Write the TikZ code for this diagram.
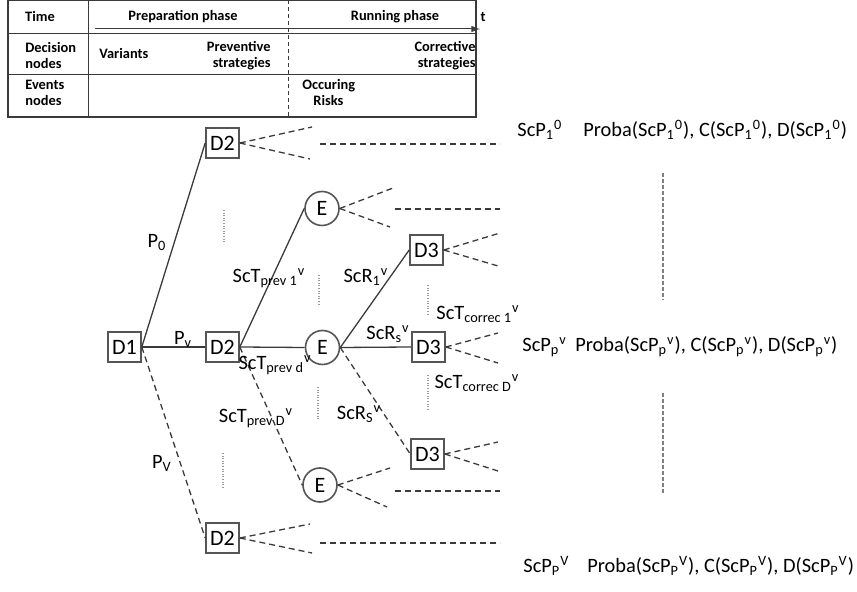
\documentclass[tikz,border=0pt]{standalone}
\usepackage{fontspec}
\setmainfont{Carlito}
\definecolor{trait}{HTML}{3A3A3A}
\definecolor{bord}{HTML}{555555}
\definecolor{pointille}{HTML}{9A9A9A}
\begin{document}
\begin{tikzpicture}[x=0.5pt,y=-0.5pt]
			% Styles
			\tikzstyle{cadre}=[draw=trait,line width=0.8pt]
			\tikzstyle{grille}=[draw=trait,line width=0.5pt]
			\tikzstyle{entete}=[inner sep=0pt,font=\bfseries\fontsize{7.2}{8}\selectfont]
			\tikzstyle{decision}=[draw=bord,line width=0.8pt,minimum width=16.5pt,minimum height=15pt,inner sep=0pt,font=\fontsize{11}{13}\selectfont]
			\tikzstyle{evenement}=[circle,draw=bord,line width=0.8pt,minimum size=17pt,inner sep=0pt,font=\fontsize{11}{13}\selectfont]
			\tikzstyle{fleche}=[-,draw=trait,line width=0.65pt]
			\tikzstyle{possible}=[-,draw=trait,line width=0.65pt,dash pattern=on 3pt off 2pt]
			\tikzstyle{etiquette}=[inner sep=0pt,font=\fontsize{10.2}{12}\selectfont]
			\tikzstyle{suite}=[draw=pointille,line width=0.7pt,dash pattern=on 0.5pt off 0.8pt]
			\tikzstyle{resultat}=[draw=gray,line width=1pt,dash pattern=on 2pt off 1pt]
			\useasboundingbox (0,0) rectangle (857,592);
			% Tableau
			\draw[cadre] (8,0.5) rectangle (476,117);
			\draw[grille] (8,34)--(476,34);
			\draw[grille] (8,75)--(476,75);
			\draw[grille] (88,0.5)--(88,117);
			\draw[grille,dash pattern=on 2pt off 1.5pt] (288,0.5)--(288,117);
			\coordinate (T0) at (95,29);
			\coordinate (T1) at (480,29);
			\draw[grille,->,>=latex] (T0)--(T1);
			\node[entete] (Time) at (40,17) {Time};
			\node[entete] (Prep) at (183,17) {Preparation phase};
			\node[entete] (Run) at (395,17) {Running phase};
			\node[entete] (t) at (483,17) {t};
			\node[entete,anchor=west,align=left] (Dec) at (25,56) {Decision\\nodes};
			\node[entete,anchor=west] (Var) at (99,54) {Variants};
			\node[entete,anchor=east,align=right] (Prev) at (271,56) {Preventive\\strategies};
			\node[entete,anchor=east,align=right] (Corr) at (476,56) {Corrective\\strategies};
			\node[entete,anchor=west,align=left] (Ev) at (25,93) {Events\\nodes};
			\node[entete,anchor=west,align=left] (Occ) at (302,93) {Occuring\\\hspace*{5.5pt}Risks};
			% Noeuds
			\node[decision] (D1) at (124.5,347) {D1};
			\node[decision] (D2a) at (222.5,143) {D2};
			\node[decision] (D2b) at (222.5,347) {D2};
			\node[decision] (D2c) at (222.5,538) {D2};
			\node[evenement] (Ea) at (322,208.5) {E};
			\node[evenement] (Eb) at (322.5,347.5) {E};
			\node[evenement] (Ec) at (320,485) {E};
			\node[decision] (D3a) at (426.5,250) {D3};
			\node[decision] (D3b) at (428.5,347) {D3};
			\node[decision] (D3c) at (427.5,454) {D3};
			% Arcs
			\draw[fleche] (D1.east)--(D2a.west);
			\draw[fleche] (D1.east)--(D2b.west);
			\draw[possible] (D1.east)--(D2c.west);
			\draw[fleche] (D2b.east)--(Ea.west);
			\draw[fleche] (D2b.east)--(Eb.west);
			\draw[possible] (D2b.east)--(Ec.west);
			\draw[fleche] (Eb.east)--(D3a.west);
			\draw[fleche] (Eb.east)--(D3b.west);
			\draw[possible] (Eb.east)--(D3c.west);
			% Etiquettes
			\node[etiquette] (P0) at (157,243) {P\textsubscript{0}};
			\node[etiquette] (Pv) at (183,339) {P\textsubscript{v}};
			\node[etiquette] (PV) at (162,463) {P\textsubscript{V}};
			\node[etiquette] (Tp1) at (269,278) {ScT\textsubscript{prev 1}\textsuperscript{v}};
			\node[etiquette] (Tpd) at (275,365) {ScT\textsubscript{prev d}\textsuperscript{v}};
			\node[etiquette] (TpD) at (256,418) {ScT\textsubscript{prev D}\textsuperscript{v}};
			\node[etiquette] (R1) at (366,277) {ScR\textsubscript{1}\textsuperscript{v}};
			\node[etiquette] (Rs) at (388,334) {ScR\textsubscript{s}\textsuperscript{v}};
			\node[etiquette] (RS) at (359,414) {ScR\textsubscript{S}\textsuperscript{v}};
			\node[etiquette] (Tc1) at (478,314) {ScT\textsubscript{correc 1}\textsuperscript{v}};
			\node[etiquette] (TcD) at (477,383) {ScT\textsubscript{correc D}\textsuperscript{v}};
			% Scenarios
			\node[etiquette,anchor=west] (S1) at (517,130) {ScP\textsubscript{1}\textsuperscript{0}};
			\node[etiquette,anchor=west] (Pr1) at (583,130) {Proba(ScP\textsubscript{1}\textsuperscript{0}), C(ScP\textsubscript{1}\textsuperscript{0}), D(ScP\textsubscript{1}\textsuperscript{0})};
			\node[etiquette,anchor=west] (Sp) at (522,347) {ScP\textsubscript{p}\textsuperscript{v}};
			\node[etiquette,anchor=west] (Prp) at (575,347) {Proba(ScP\textsubscript{p}\textsuperscript{v}), C(ScP\textsubscript{p}\textsuperscript{v}), D(ScP\textsubscript{p}\textsuperscript{v})};
			\node[etiquette,anchor=west] (SP) at (523,566) {ScP\textsubscript{P}\textsuperscript{V}};
			\node[etiquette,anchor=west] (PrP) at (587,566) {Proba(ScP\textsubscript{P}\textsuperscript{V}), C(ScP\textsubscript{P}\textsuperscript{V}), D(ScP\textsubscript{P}\textsuperscript{V})};
			% Branches ouvertes
			\coordinate (a1) at (312,127); \coordinate (a2) at (310,159);
			\coordinate (a3) at (320,144); \coordinate (a4) at (500,144);
			\coordinate (b1) at (393,188); \coordinate (b2) at (390,227);
			\coordinate (b3) at (395,209); \coordinate (b4) at (500,209);
			\coordinate (c1) at (500,233); \coordinate (c2) at (498,266);
			\coordinate (d1) at (498,333); \coordinate (d2) at (498,363);
			\coordinate (e1) at (498,442); \coordinate (e2) at (498,471);
			\coordinate (f1) at (390,468); \coordinate (f2) at (387,507);
			\coordinate (f3) at (395,491); \coordinate (f4) at (500,491);
			\coordinate (g1) at (310,524); \coordinate (g2) at (312,553);
			\coordinate (g3) at (320,543); \coordinate (g4) at (500,543);
			\draw[possible] (D2a.east)--(a1); \draw[possible] (D2a.east)--(a2);
			\draw[possible] (a3)--(a4);
			\draw[possible] (Ea.east)--(b1); \draw[possible] (Ea.east)--(b2);
			\draw[possible] (b3)--(b4);
			\draw[possible] (D3a.east)--(c1); \draw[possible] (D3a.east)--(c2);
			\draw[possible] (D3b.east)--(d1); \draw[possible] (D3b.east)--(d2);
			\draw[possible] (D3c.east)--(e1); \draw[possible] (D3c.east)--(e2);
			\draw[possible] (Ec.east)--(f1); \draw[possible] (Ec.east)--(f2);
			\draw[possible] (f3)--(f4);
			\draw[possible] (D2c.east)--(g1); \draw[possible] (D2c.east)--(g2);
			\draw[possible] (g3)--(g4);
			% Pointilles
			\draw[suite] (224,210)--(224,242);
			\draw[suite] (319,275)--(319,305);
			\draw[suite] (428,285)--(428,314);
			\draw[suite] (318,387)--(318,420);
			\draw[suite] (428,375)--(428,410);
			\draw[suite] (223,453)--(223,487);
			\draw[resultat] (663,173)--(663,300);
			\draw[resultat] (663,393)--(663,493);
		\end{tikzpicture}
\end{document}
